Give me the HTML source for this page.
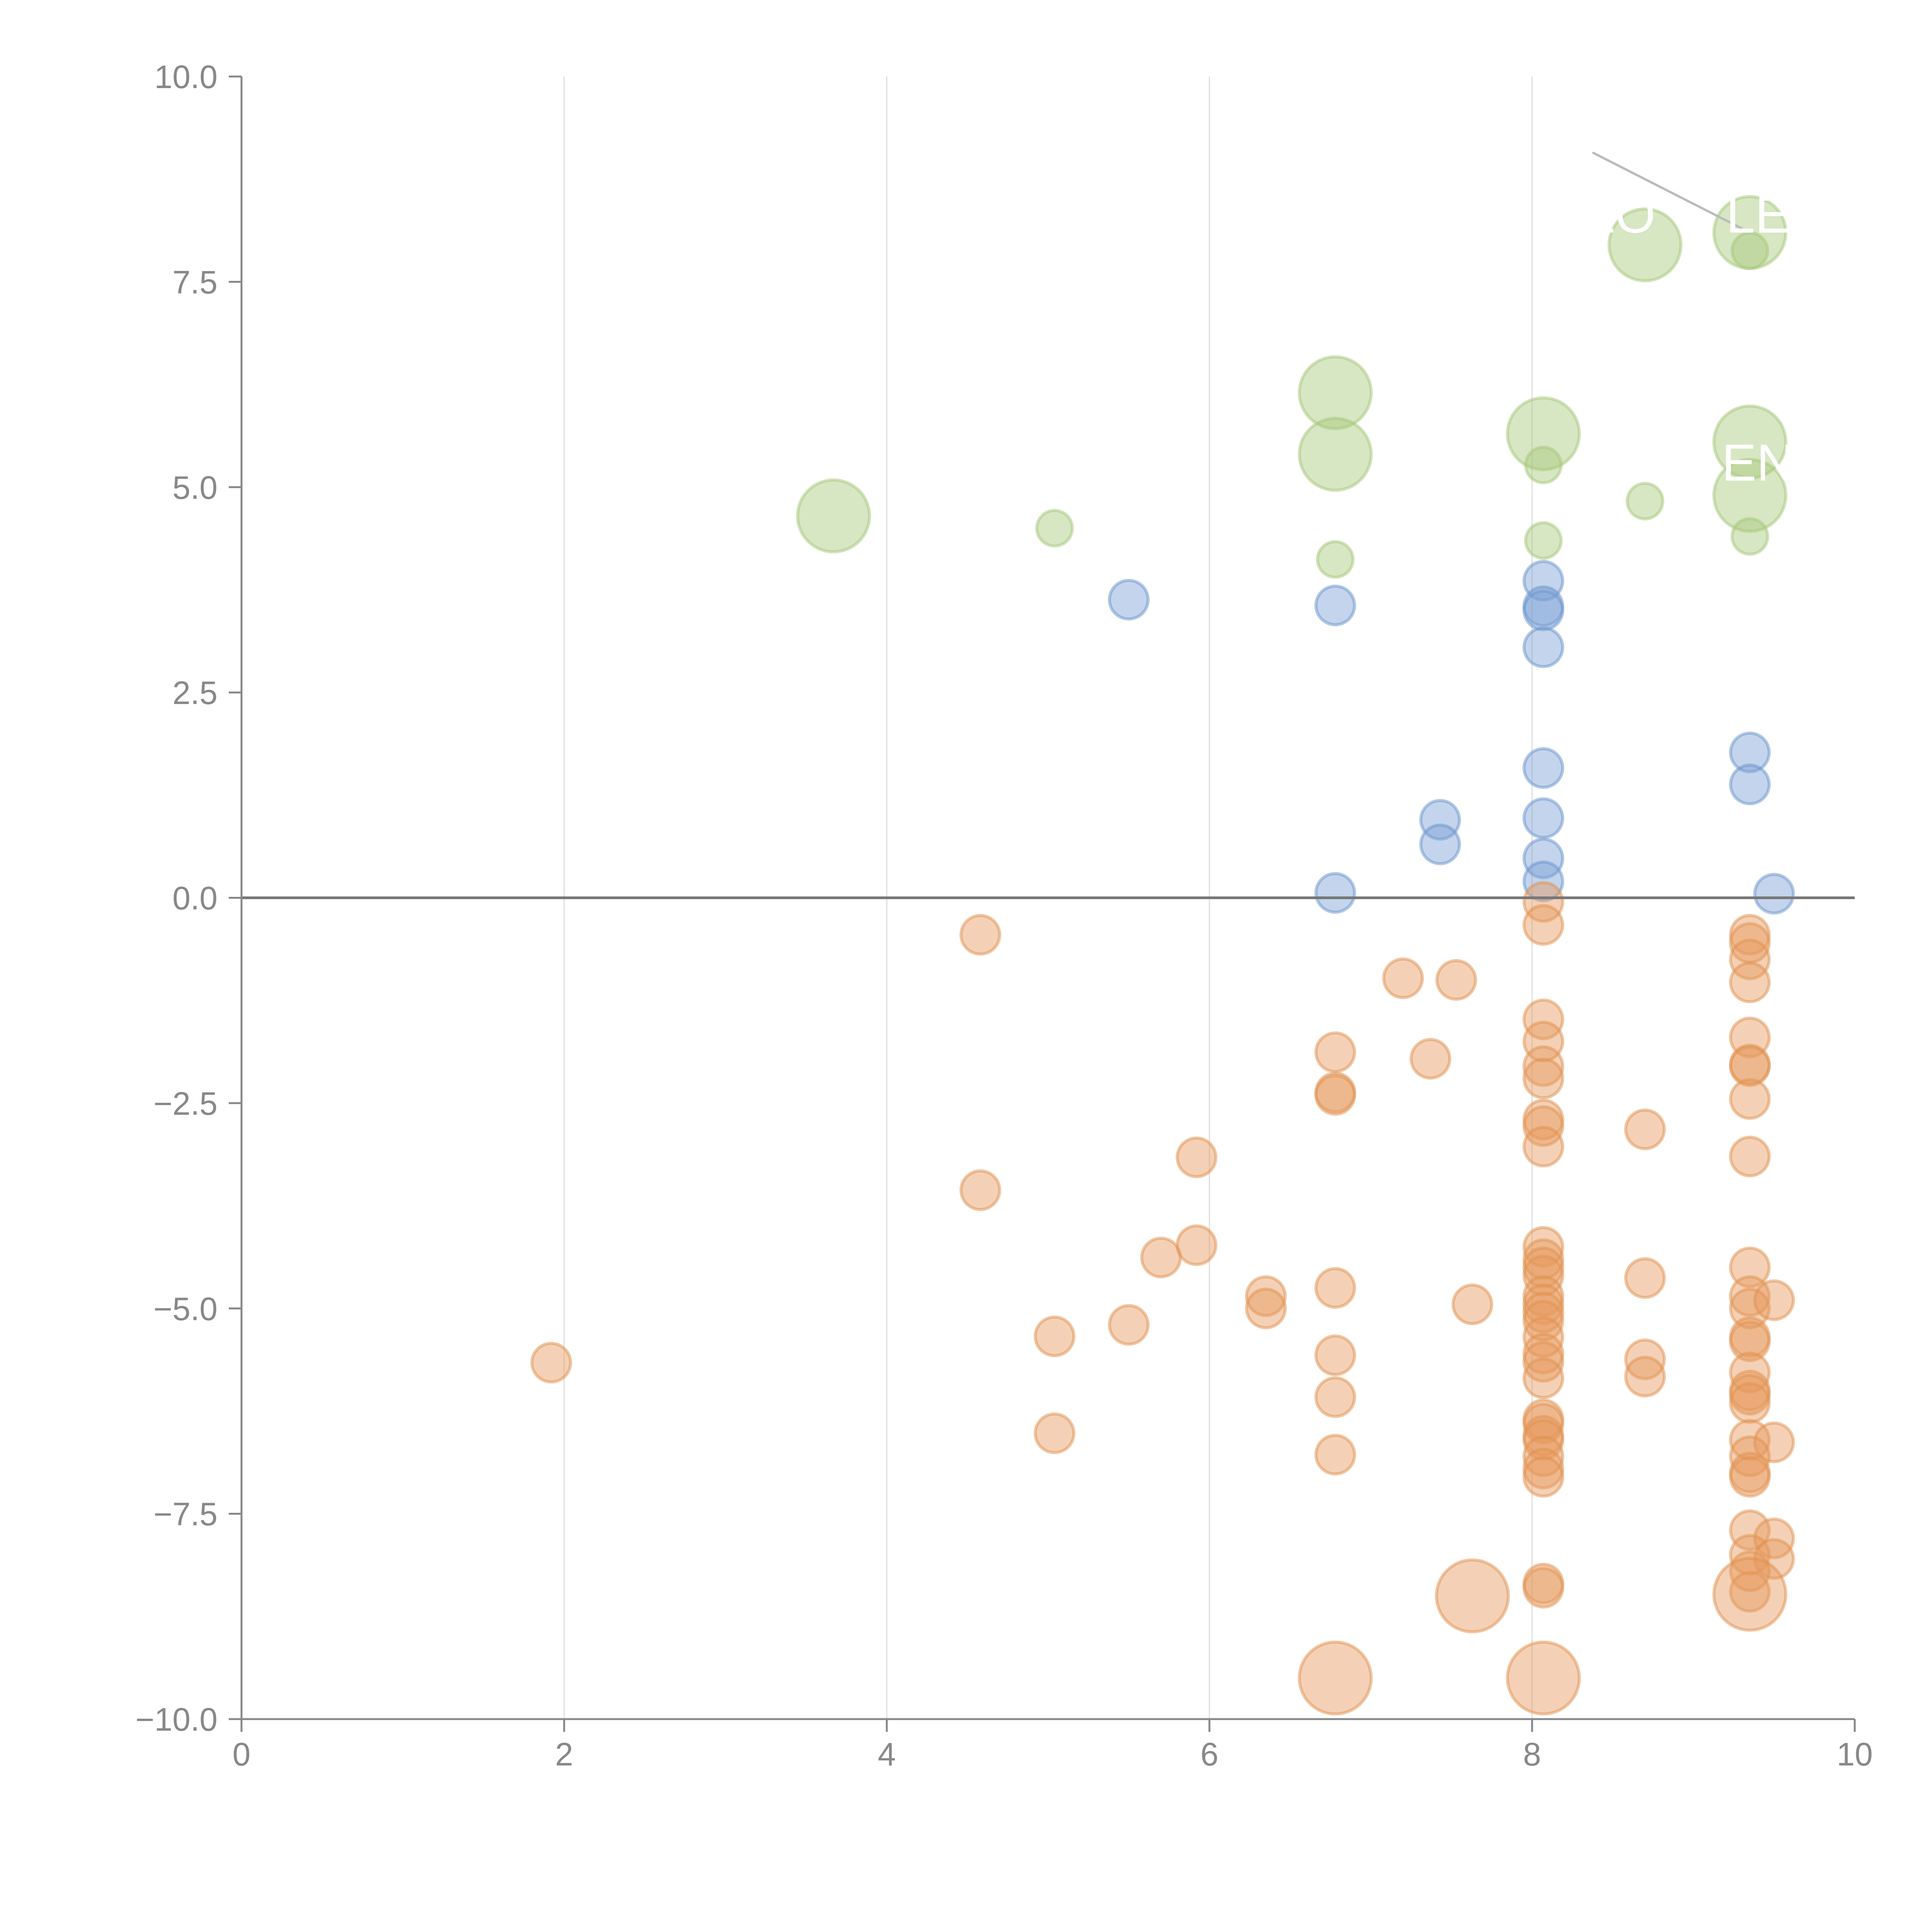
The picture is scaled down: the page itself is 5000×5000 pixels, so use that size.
<!DOCTYPE html>
<html><head><meta charset="utf-8">
<style>html,body{margin:0;padding:0;background:#fff;}svg{display:block;}</style>
</head><body>
<svg id="chart" width="5000" height="5000" viewBox="0 0 5000 5000" xmlns="http://www.w3.org/2000/svg" font-family="Liberation Sans, sans-serif">
<g id="grid"></g>
<g id="marks"></g>
<g id="axes"></g>
</svg>
<script>
const xTicks = [0, 2, 4, 6, 8, 10];
const yTicks = [10, 7.5, 5, 2.5, 0, -2.5, -5, -7.5, -10];
const yTickLabels = ["10.0", "7.5", "5.0", "2.5", "0.0", "\u22122.5", "\u22125.0", "\u22127.5", "\u221210.0"];
const greenBig = [[9.35,8.1],[8.7,7.95],[6.78,6.15],[6.78,5.4],[8.07,5.65],[9.35,5.55],[9.35,4.9],[3.67,4.65]];
const greenSmall = [[9.35,7.88],[8.07,5.27],[8.7,4.83],[8.07,4.35],[9.35,4.4],[6.78,4.12],[5.04,4.5]];
const blueSmall = [[5.5,3.63],[6.78,3.56],[8.07,3.86],[8.07,3.55],[8.07,3.5],[8.07,3.05],[8.07,1.58],[9.35,1.77],[9.35,1.38],[7.43,0.95],[7.43,0.65],[8.07,0.97],[8.07,0.48],[8.07,0.2],[6.78,0.06],[9.5,0.05]];
const orangeSmall = [[8.07,-0.05],[8.07,-0.33],[4.58,-0.45],[9.35,-0.45],[9.35,-0.55],[9.35,-0.75],[7.2,-0.98],[7.53,-1.0],[9.35,-1.03],[8.07,-1.48],[8.07,-1.75],[9.35,-1.7],[6.78,-1.88],[7.37,-1.96],[8.07,-2.05],[8.07,-2.2],[9.35,-2.03],[9.35,-2.05],[6.78,-2.37],[6.78,-2.4],[9.35,-2.45],[8.07,-2.7],[8.07,-2.78],[8.7,-2.82],[8.07,-3.03],[5.92,-3.16],[9.35,-3.15],[4.58,-3.56],[5.92,-4.23],[5.7,-4.38],[8.07,-4.25],[8.07,-4.4],[8.07,-4.5],[8.07,-4.6],[9.35,-4.5],[8.7,-4.63],[6.78,-4.75],[6.35,-4.85],[6.35,-5.0],[7.63,-4.95],[8.07,-4.85],[8.07,-4.95],[8.07,-5.05],[9.35,-4.85],[9.35,-5.0],[9.5,-4.9],[5.5,-5.2],[8.07,-5.15],[5.04,-5.34],[8.07,-5.35],[9.35,-5.35],[9.35,-5.4],[8.07,-5.55],[6.78,-5.57],[8.7,-5.62],[8.07,-5.65],[9.35,-5.78],[8.7,-5.83],[8.07,-5.85],[9.35,-6.0],[9.35,-6.05],[6.78,-6.08],[9.35,-6.15],[8.07,-6.35],[8.07,-6.4],[5.04,-6.52],[8.07,-6.55],[8.07,-6.6],[9.35,-6.6],[9.5,-6.63],[8.07,-6.8],[6.78,-6.78],[9.35,-6.8],[8.07,-6.95],[8.07,-7.05],[9.35,-7.0],[9.35,-7.05],[9.35,-7.7],[9.5,-7.8],[9.35,-8.0],[9.5,-8.05],[9.35,-8.2],[8.07,-8.35],[8.07,-8.4],[9.35,-8.45],[1.92,-5.66]];
const orangeBig = [[7.63,-8.5],[9.35,-8.48],[6.78,-9.5],[8.07,-9.5]];
const labels = [["LO",8.55,8.1],["LE",9.4,8.1],["EN",9.4,5.08]];

const X0=625, X1=4800, Y0=4449, Y1=198;
function sx(v){return X0+(v-0)/(10-0)*(X1-X0);}
function sy(v){return Y0-(v+10)/20*(Y0-Y1);}
const NS="http://www.w3.org/2000/svg";
function mk(tag, attrs, parent){const e=document.createElementNS(NS,tag);for(const k in attrs)e.setAttribute(k,attrs[k]);parent.appendChild(e);return e;}
const grid=document.getElementById('grid'), marks=document.getElementById('marks'), axes=document.getElementById('axes');

xTicks.forEach(t=>{ if(t>0&&t<10){
  const l=mk('line',{x1:sx(t),x2:sx(t),y1:Y1,y2:Y0,stroke:'#dddddd','stroke-width':3},grid);
  
  
}});

function drawSet(arr, r, fill, stroke, name){
  arr.forEach(p=>{
    const c=mk('circle',{cx:sx(p[0]),cy:sy(p[1]),r:r,fill:fill,'fill-opacity':0.45,stroke:stroke,'stroke-opacity':0.5,'stroke-width':8},marks);
    
    
  });
}
drawSet(greenBig,93,'#a6c77a','#a6c77a','green-bubble-large');
drawSet(greenSmall,46,'#a6c77a','#a6c77a','green-bubble');
drawSet(blueSmall,50,'#7aa0d4','#6a93cc','blue-bubble');
drawSet(orangeSmall,50,'#e79a5e','#e0914f','orange-bubble');
drawSet(orangeBig,93,'#e79a5e','#e0914f','orange-bubble-large');

const zl=mk('line',{x1:sx(0),x2:sx(10),y1:sy(0),y2:sy(0),stroke:'#777777','stroke-width':7},axes);



const ld=mk('line',{x1:sx(8.38),y1:sy(9.07),x2:sx(9.3),y2:sy(8.15),stroke:'#bbbbbb','stroke-width':6,'stroke-linecap':'round'},axes);



labels.forEach(l=>{
  const t=mk('text',{x:sx(l[1]),y:sy(l[2]),'font-size':135,fill:'#ffffff','text-anchor':'middle'},axes);
  t.textContent=l[0];
  
  
});

const ya=mk('line',{x1:X0,x2:X0,y1:Y1,y2:Y0,stroke:'#888888','stroke-width':5},axes);


const xa=mk('line',{x1:X0,x2:X1,y1:Y0,y2:Y0,stroke:'#888888','stroke-width':5},axes);



yTicks.forEach((t,i)=>{
  const tk=mk('line',{x1:X0-33,x2:X0,y1:sy(t),y2:sy(t),stroke:'#888888','stroke-width':5},axes);
  
  
  const tx=mk('text',{x:X0-62,y:sy(t)+30,'font-size':84,fill:'#888888','text-anchor':'end'},axes);
  tx.textContent=yTickLabels[i];
  
  
});
xTicks.forEach(t=>{
  const tk=mk('line',{x1:sx(t),x2:sx(t),y1:Y0,y2:Y0+33,stroke:'#888888','stroke-width':5},axes);
  
  
  const tx=mk('text',{x:sx(t),y:Y0+120,'font-size':84,fill:'#888888','text-anchor':'middle'},axes);
  tx.textContent=String(t);
  
  
});
</script>
</body></html>
